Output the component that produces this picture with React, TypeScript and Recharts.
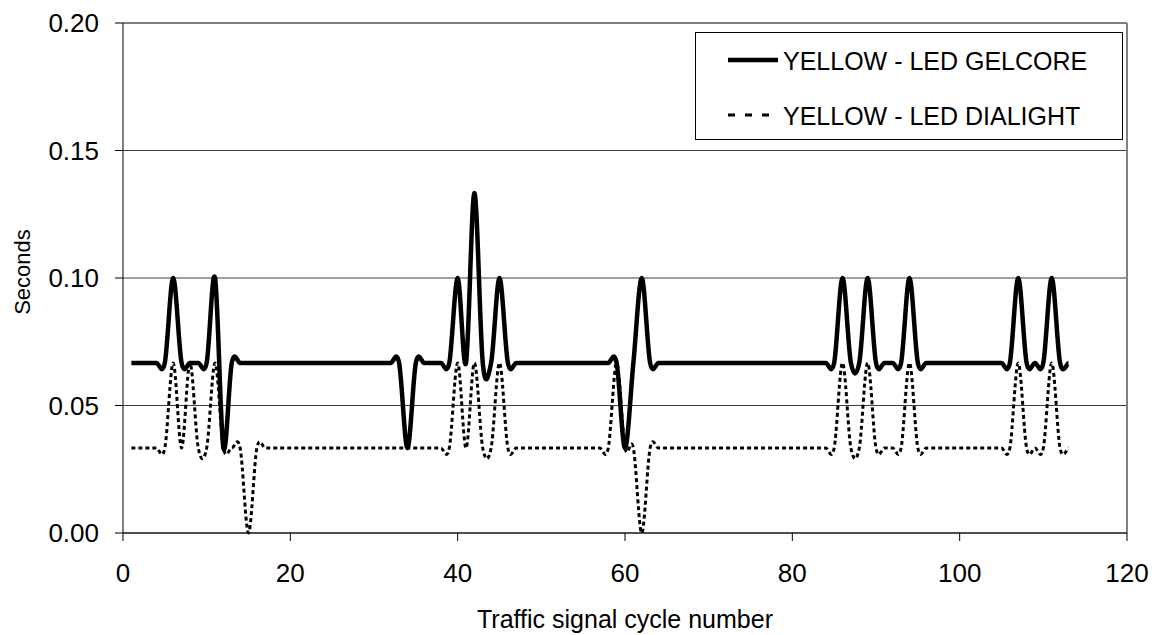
import React from "react";
import { LineChart, Line, XAxis, YAxis, CartesianGrid, ReferenceLine, Label } from "recharts";

const FONT = 'Arial, "Liberation Sans", sans-serif';

// traffic signal cycle number (x)
const cycles = [
  1, 2, 3, 4, 5, 6, 7, 8, 9, 10,
  11, 12, 13, 14, 15, 16, 17, 18, 19, 20,
  21, 22, 23, 24, 25, 26, 27, 28, 29, 30,
  31, 32, 33, 34, 35, 36, 37, 38, 39, 40,
  41, 42, 43, 44, 45, 46, 47, 48, 49, 50,
  51, 52, 53, 54, 55, 56, 57, 58, 59, 60,
  61, 62, 63, 64, 65, 66, 67, 68, 69, 70,
  71, 72, 73, 74, 75, 76, 77, 78, 79, 80,
  81, 82, 83, 84, 85, 86, 87, 88, 89, 90,
  91, 92, 93, 94, 95, 96, 97, 98, 99, 100,
  101, 102, 103, 104, 105, 106, 107, 108, 109, 110,
  111, 112, 113,
];

// seconds, YELLOW - LED GELCORE
const gelcore = [
  0.0667, 0.0667, 0.0667, 0.0667, 0.0667, 0.1, 0.0667, 0.0667, 0.0667, 0.0667,
  0.1, 0.0333, 0.0667, 0.0667, 0.0667, 0.0667, 0.0667, 0.0667, 0.0667, 0.0667,
  0.0667, 0.0667, 0.0667, 0.0667, 0.0667, 0.0667, 0.0667, 0.0667, 0.0667, 0.0667,
  0.0667, 0.0667, 0.0667, 0.0333, 0.0667, 0.0667, 0.0667, 0.0667, 0.0667, 0.1,
  0.0667, 0.1333, 0.0667, 0.0667, 0.1, 0.0667, 0.0667, 0.0667, 0.0667, 0.0667,
  0.0667, 0.0667, 0.0667, 0.0667, 0.0667, 0.0667, 0.0667, 0.0667, 0.0667, 0.0333,
  0.0667, 0.1, 0.0667, 0.0667, 0.0667, 0.0667, 0.0667, 0.0667, 0.0667, 0.0667,
  0.0667, 0.0667, 0.0667, 0.0667, 0.0667, 0.0667, 0.0667, 0.0667, 0.0667, 0.0667,
  0.0667, 0.0667, 0.0667, 0.0667, 0.0667, 0.1, 0.0667, 0.0667, 0.1, 0.0667,
  0.0667, 0.0667, 0.0667, 0.1, 0.0667, 0.0667, 0.0667, 0.0667, 0.0667, 0.0667,
  0.0667, 0.0667, 0.0667, 0.0667, 0.0667, 0.0667, 0.1, 0.0667, 0.0667, 0.0667,
  0.1, 0.0667, 0.0667,
];

// seconds, YELLOW - LED DIALIGHT
const dialight = [
  0.0333, 0.0333, 0.0333, 0.0333, 0.0333, 0.0667, 0.0333, 0.0667, 0.0333, 0.0333,
  0.0667, 0.0333, 0.0333, 0.0333, 0, 0.0333, 0.0333, 0.0333, 0.0333, 0.0333,
  0.0333, 0.0333, 0.0333, 0.0333, 0.0333, 0.0333, 0.0333, 0.0333, 0.0333, 0.0333,
  0.0333, 0.0333, 0.0333, 0.0333, 0.0333, 0.0333, 0.0333, 0.0333, 0.0333, 0.0667,
  0.0333, 0.0667, 0.0333, 0.0333, 0.0667, 0.0333, 0.0333, 0.0333, 0.0333, 0.0333,
  0.0333, 0.0333, 0.0333, 0.0333, 0.0333, 0.0333, 0.0333, 0.0333, 0.0667, 0.0333,
  0.0333, 0, 0.0333, 0.0333, 0.0333, 0.0333, 0.0333, 0.0333, 0.0333, 0.0333,
  0.0333, 0.0333, 0.0333, 0.0333, 0.0333, 0.0333, 0.0333, 0.0333, 0.0333, 0.0333,
  0.0333, 0.0333, 0.0333, 0.0333, 0.0333, 0.0667, 0.0333, 0.0333, 0.0667, 0.0333,
  0.0333, 0.0333, 0.0333, 0.0667, 0.0333, 0.0333, 0.0333, 0.0333, 0.0333, 0.0333,
  0.0333, 0.0333, 0.0333, 0.0333, 0.0333, 0.0333, 0.0667, 0.0333, 0.0333, 0.0333,
  0.0667, 0.0333, 0.0333,
];

const xTicks = [0, 20, 40, 60, 80, 100, 120];
const yTicks = [0, 0.05, 0.1, 0.15, 0.2];

// smoothed line like excel's: catmull-rom through every point (overshoots a little)
function excelSmooth(context: any) {
  let pts: number[][] = [];
  return {
    areaStart() {},
    areaEnd() {},
    lineStart() {
      pts = [];
    },
    point(x: number, y: number) {
      pts.push([+x, +y]);
    },
    lineEnd() {
      if (!pts.length) return;
      context.moveTo(pts[0][0], pts[0][1]);
      for (let i = 0; i < pts.length - 1; i++) {
        const p0 = pts[i - 1] || pts[i];
        const p1 = pts[i];
        const p2 = pts[i + 1];
        const p3 = pts[i + 2] || p2;
        context.bezierCurveTo(
          p1[0] + (p2[0] - p0[0]) / 6,
          p1[1] + (p2[1] - p0[1]) / 6,
          p2[0] - (p3[0] - p1[0]) / 6,
          p2[1] - (p3[1] - p1[1]) / 6,
          p2[0],
          p2[1]
        );
      }
    },
  };
}

export default function App() {
  const data = cycles.map((c, i) => ({ cycle: c, gelcore: gelcore[i], dialight: dialight[i] }));

  return (
    <div style={{ position: "absolute", left: 0, top: 0, width: 1159, height: 635, background: "#fff", fontFamily: FONT }}>
      <LineChart width={1159} height={635} data={data} margin={{ top: 23, right: 32, bottom: 0, left: 0 }}>
        <CartesianGrid horizontal vertical={false} stroke="#404040" />
        <XAxis
          dataKey="cycle"
          type="number"
          domain={[0, 120]}
          ticks={xTicks}
          interval={0}
          height={102}
          tickSize={8}
          tickMargin={23}
          axisLine={{ stroke: "#000" }}
          tickLine={{ stroke: "#000" }}
          tick={{ fill: "#000", fontSize: 26, fontFamily: FONT }}
        >
          <Label
            content={({ viewBox }: any) => (
              <text x={viewBox.x + viewBox.width / 2} y={628} textAnchor="middle" fontSize={25} fontFamily={FONT} fill="#000">
                Traffic signal cycle number
              </text>
            )}
          />
        </XAxis>
        <YAxis
          type="number"
          domain={[0, 0.2]}
          ticks={yTicks}
          interval={0}
          width={123}
          tickSize={8}
          tickMargin={16}
          tickFormatter={(v: number) => v.toFixed(2)}
          axisLine={{ stroke: "#000" }}
          tickLine={{ stroke: "#000" }}
          tick={{ fill: "#000", fontSize: 26, fontFamily: FONT }}
        >
          <Label
            content={() => (
              <text x={22} y={272} transform="rotate(-90, 22, 272)" textAnchor="middle" dominantBaseline="central" fontSize={22} fontFamily={FONT} fill="#000">
                Seconds
              </text>
            )}
          />
        </YAxis>
        <ReferenceLine y={0.2} stroke="#808080" strokeWidth={2} />
        <ReferenceLine x={120} stroke="#808080" strokeWidth={2} />
        <Line dataKey="dialight" type={excelSmooth as any} stroke="#000" strokeWidth={3} strokeDasharray="4 3" dot={false} isAnimationActive={false} />
        <Line dataKey="gelcore" type={excelSmooth as any} stroke="#000" strokeWidth={4.5} dot={false} isAnimationActive={false} />
      </LineChart>

      {/* legend box, top right of the plot */}
      <div style={{ position: "absolute", left: 695, top: 32, width: 428, height: 108, boxSizing: "border-box", border: "1px solid #000", background: "#fff" }}>
        <svg style={{ position: "absolute", left: 31, top: 22 }} width={52} height={10}>
          <line x1={1} y1={5} x2={51} y2={5} stroke="#000" strokeWidth={4.5} />
        </svg>
        <div style={{ position: "absolute", left: 87, top: 12, fontSize: 25, lineHeight: "32px", color: "#000", whiteSpace: "nowrap" }}>
          YELLOW - LED GELCORE
        </div>
        <svg style={{ position: "absolute", left: 31, top: 77 }} width={52} height={10}>
          <line x1={1} y1={5} x2={42} y2={5} stroke="#000" strokeWidth={3} strokeDasharray="7 10" />
        </svg>
        <div style={{ position: "absolute", left: 87, top: 67, fontSize: 25, lineHeight: "32px", color: "#000", whiteSpace: "nowrap" }}>
          YELLOW - LED DIALIGHT
        </div>
      </div>
    </div>
  );
}
